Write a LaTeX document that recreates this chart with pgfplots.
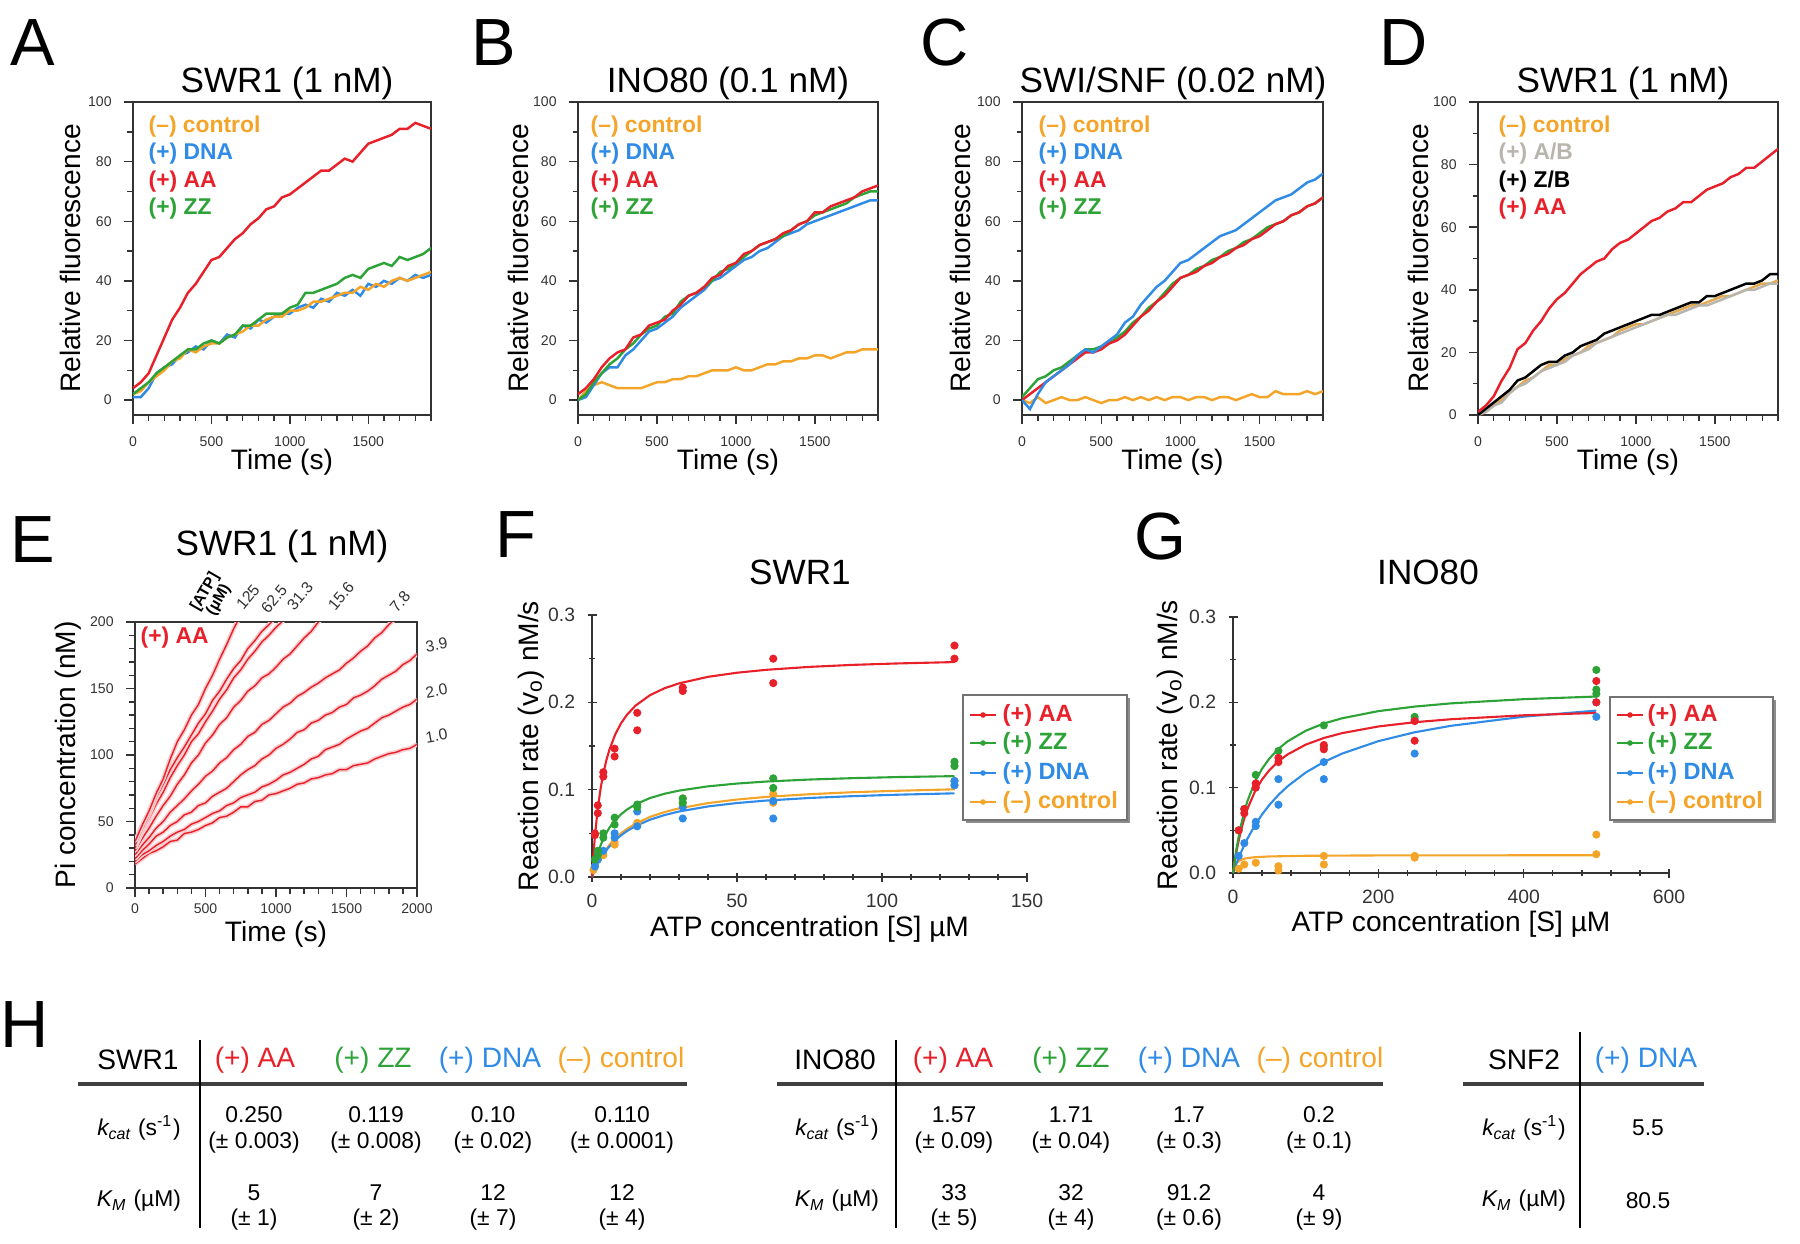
\documentclass[border=0pt]{standalone}
\usepackage{fontspec}
\setmainfont{Liberation Sans}
\usepackage{pgfplots}
\usepackage{pgfplotstable}
\pgfplotsset{compat=1.18}
\definecolor{cred}{HTML}{E8202A}
\definecolor{cblue}{HTML}{2F8BE6}
\definecolor{cgreen}{HTML}{2DA337}
\definecolor{corange}{HTML}{F4A428}
\definecolor{cgray}{HTML}{B8B4AE}
\definecolor{axgray}{HTML}{333333}
\newcommand{\fs}[1]{\fontsize{#1}{#1}\selectfont}

\pgfplotstableread{
t ctrl dna aa zz
0 2 1 4 2
50 3 1 6 4
100 6 4 9 6
150 8 9 15 9
200 10 11 21 11
250 13 12 27 13
300 14 15 31 15
350 17 16 36 17
400 16 18 39 17
450 18 17 43 19
500 19 20 47 20
550 19 19 48 19
600 21 22 51 21
650 22 21 54 22
700 23 25 56 25
750 25 24 59 25
800 25 27 61 27
850 27 26 64 29
900 28 28 65 29
950 28 29 68 29
1000 30 29 69 31
1050 30 31 71 32
1100 31 32 73 36
1150 33 31 75 36
1200 33 34 77 37
1250 34 33 77 38
1300 35 36 79 39
1350 36 35 81 41
1400 36 37 80 42
1450 38 35 83 41
1500 37 39 86 44
1550 39 38 87 45
1600 38 40 88 46
1650 40 39 89 45
1700 41 41 91 48
1750 40 40 91 47
1800 41 42 93 48
1850 42 41 92 49
1900 43 42 91 51
}\dataA

\pgfplotstableread{
t ctrl dna aa zz
0 0 0 2 0
50 3 1 4 2
100 5 5 7 6
150 6 9 11 9
200 5 11 14 12
250 4 11 16 14
300 4 15 17 17
350 4 17 21 19
400 4 20 22 22
450 5 23 25 24
500 6 24 26 25
550 6 26 27 28
600 7 28 30 29
650 7 31 32 33
700 8 33 35 35
750 8 35 36 36
800 9 37 38 38
850 10 40 41 40
900 10 41 42 43
950 10 43 45 44
1000 11 45 46 46
1050 10 47 49 48
1100 10 48 50 50
1150 11 50 52 52
1200 12 51 53 53
1250 12 53 54 54
1300 13 55 56 55
1350 13 56 57 57
1400 14 57 59 59
1450 14 59 60 60
1500 15 60 63 62
1550 15 61 63 63
1600 14 62 65 64
1650 15 63 66 65
1700 16 64 67 66
1750 16 65 68 68
1800 17 66 70 69
1850 17 67 71 70
1900 17 67 72 70
}\dataB

\pgfplotstableread{
t ctrl dna aa zz
0 0 0 0 1
50 -1 -3 2 4
100 1 2 4 7
150 -1 6 6 8
200 0 8 8 10
250 1 10 10 11
300 0 12 12 13
350 0 15 14 15
400 1 17 16 17
450 0 16 16 17
500 -1 18 17 18
550 0 20 19 19
600 0 22 20 21
650 1 26 22 23
700 0 28 25 26
750 1 32 28 28
800 0 35 30 31
850 1 38 33 33
900 0 40 35 36
950 1 43 38 39
1000 1 46 41 41
1050 0 47 42 42
1100 1 49 43 44
1150 1 51 45 45
1200 0 53 46 47
1250 1 55 48 48
1300 1 56 49 50
1350 0 57 51 51
1400 1 59 52 53
1450 2 61 54 54
1500 1 63 55 56
1550 1 65 57 58
1600 3 67 59 59
1650 2 68 60 60
1700 2 69 62 62
1750 2 71 63 63
1800 3 73 65 65
1850 2 74 66 66
1900 3 76 68 68
}\dataC

\pgfplotstableread{
t ctrl ab zb aa
0 0 0 0 1
50 1 1 2 3
100 3 3 4 6
150 5 4 6 11
200 7 7 8 15
250 9 9 11 21
300 11 10 12 23
350 12 12 14 27
400 14 14 16 30
450 16 15 17 34
500 16 16 17 37
550 18 17 19 39
600 19 19 20 42
650 20 20 22 45
700 22 21 23 47
750 23 23 24 49
800 24 24 26 50
850 25 25 27 53
900 27 26 28 55
950 28 27 29 56
1000 29 28 30 58
1050 29 29 31 60
1100 30 30 32 62
1150 31 31 32 63
1200 32 32 33 65
1250 33 32 34 66
1300 34 33 35 68
1350 35 34 36 68
1400 35 35 36 70
1450 36 35 38 72
1500 37 36 38 73
1550 38 37 39 74
1600 38 38 40 76
1650 39 39 41 77
1700 40 40 42 79
1750 41 40 42 79
1800 42 41 43 81
1850 42 42 45 83
1900 43 42 45 85
}\dataD

\pgfplotsset{
  base/.style={scale only axis, tick align=outside, tick pos=left,
    /pgf/number format/assume math mode=true,
    /pgf/number format/1000 sep={},
    axis line style={axgray, line width=0.45pt},
    every tick/.style={axgray, line width=0.4pt},
    major tick length=0.9mm, minor tick length=0.55mm,
    ticklabel style={font=\fs{4}, text=axgray},
  },
  ylab/.style={every axis y label/.style={at={(axis description cs:#1,0.5)}, rotate=90, anchor=center, font=\fs{8}}},
  xlab/.style={every axis x label/.style={at={(axis description cs:0.5,#1)}, anchor=center, font=\fs{8}}},
  kin/.style={base, width=#1, height=31.3mm, xmin=0, xmax=1900, ymin=-5, ymax=100,
    xtick={0,500,1000,1500}, ytick={0,20,40,60,80,100},
    minor xtick={100,200,...,1900}, minor ytick={10,30,50,70,90},
    xlabel={Time (s)}, ylabel={Relative fluorescence},
    ylab=-0.21, xlab=-0.15,
    every axis plot/.append style={line width=0.7pt},
  },
  mm/.style={base, axis lines=left, axis line style={-, axgray, line width=0.5pt},
    ymin=0, ymax=0.3, ytick={0,0.1,0.2,0.3}, minor ytick={0.05,0.15,0.25},
    ticklabel style={font=\fs{5.5}},
    yticklabel style={/pgf/number format/.cd, fixed, fixed zerofill, precision=1},
    xlabel={ATP concentration [S] µM}, ylabel={Reaction rate (v\textsubscript{o}) nM/s},
    ylab=-0.14, xlab=-0.2,
    clip=false,
  },
  pts/.style={only marks, mark=*, mark size=0.95pt, #1},
  fit/.style={no marks, line width=0.6pt, #1},
  ecurve/.style={no marks, line width=0.4pt, cred, preaction={draw=cred!22, line width=1.3pt}},
}

\begin{document}
\begin{tikzpicture}
\path[use as bounding box] (0,0) rectangle (180mm,124.3mm);

% ---------- A ----------
\begin{axis}[kin=29.8mm, at={(13.3mm,82.8mm)}]
\addplot[cblue] table[x=t,y=dna]{\dataA};
\addplot[corange] table[x=t,y=ctrl]{\dataA};
\addplot[cgreen] table[x=t,y=zz]{\dataA};
\addplot[cred] table[x=t,y=aa]{\dataA};
\end{axis}
% ---------- B ----------
\begin{axis}[kin=30.0mm, at={(57.8mm,82.8mm)}, ylab=-0.2]
\addplot[corange] table[x=t,y=ctrl]{\dataB};
\addplot[cblue] table[x=t,y=dna]{\dataB};
\addplot[cgreen] table[x=t,y=zz]{\dataB};
\addplot[cred] table[x=t,y=aa]{\dataB};
\end{axis}
% ---------- C ----------
\begin{axis}[kin=30.1mm, at={(102.2mm,82.8mm)}, ylab=-0.206]
\addplot[corange] table[x=t,y=ctrl]{\dataC};
\addplot[cgreen] table[x=t,y=zz]{\dataC};
\addplot[cred] table[x=t,y=aa]{\dataC};
\addplot[cblue] table[x=t,y=dna]{\dataC};
\end{axis}
% ---------- D ----------
\begin{axis}[kin=30.0mm, at={(147.8mm,82.8mm)}, ymin=0, ylab=-0.2, xlab=-0.15]
\addplot[corange!70!cgray] table[x=t,y=ctrl]{\dataD};
\addplot[cgray] table[x=t,y=ab]{\dataD};
\addplot[black] table[x=t,y=zb]{\dataD};
\addplot[cred] table[x=t,y=aa]{\dataD};
\end{axis}

% ---------- E ----------
\begin{axis}[base, width=28.2mm, height=26.6mm, at={(13.5mm,35.5mm)},
  xmin=0, xmax=2000, ymin=0, ymax=200,
  xtick={0,500,1000,1500,2000}, ytick={0,50,100,150,200},
  minor xtick={100,200,...,2000}, minor ytick={10,20,...,200},
  xticklabel style={yshift=0.6mm},
  xlabel={Time (s)}, ylabel={Pi concentration (nM)},
  ylab=-0.238, xlab=-0.175]
\addplot[ecurve] coordinates {(0,18)(50,22)(100,26)(150,28)(200,31)(250,35)(300,36)(350,41)(400,42)(450,44)(500,47)(550,49)(600,53)(650,54)(700,57)(750,61)(800,61)(850,65)(900,66)(950,70)(1000,71)(1050,73)(1100,75)(1150,78)(1200,79)(1250,82)(1300,83)(1350,85)(1400,86)(1450,89)(1500,89)(1550,92)(1600,93)(1650,94)(1700,97)(1750,99)(1800,101)(1850,102)(1900,104)(1950,105)(2000,108)};
\addplot[ecurve] coordinates {(0,20)(50,25)(100,28)(150,32)(200,35)(250,39)(300,42)(350,44)(400,48)(450,50)(500,53)(550,56)(600,58)(650,62)(700,64)(750,68)(800,70)(850,72)(900,76)(950,78)(1000,81)(1050,85)(1100,87)(1150,90)(1200,93)(1250,97)(1300,99)(1350,104)(1400,106)(1450,108)(1500,112)(1550,115)(1600,118)(1650,120)(1700,124)(1750,128)(1800,130)(1850,133)(1900,136)(1950,138)(2000,142)};
\addplot[ecurve] coordinates {(0,22)(50,28)(100,33)(150,39)(200,42)(250,47)(300,50)(350,55)(400,57)(450,62)(500,64)(550,69)(600,72)(650,75)(700,80)(750,85)(800,89)(850,92)(900,97)(950,100)(1000,105)(1050,108)(1100,112)(1150,117)(1200,119)(1250,124)(1300,126)(1350,130)(1400,132)(1450,136)(1500,138)(1550,143)(1600,145)(1650,148)(1700,152)(1750,157)(1800,160)(1850,163)(1900,168)(1950,171)(2000,176)};
\addplot[ecurve] coordinates {(0,25)(50,32)(100,38)(150,45)(200,50)(250,57)(300,62)(350,67)(400,73)(450,78)(500,84)(550,88)(600,94)(650,98)(700,104)(750,108)(800,114)(850,117)(900,123)(950,126)(1000,131)(1050,136)(1100,139)(1150,144)(1200,147)(1250,151)(1300,154)(1350,158)(1400,161)(1450,164)(1500,169)(1550,173)(1600,178)(1650,182)(1700,188)(1750,192)(1800,198)(1850,203)(1900,206)};
\addplot[ecurve] coordinates {(0,28)(50,37)(100,45)(150,54)(200,62)(250,69)(300,78)(350,85)(400,94)(450,100)(500,109)(550,115)(600,123)(650,128)(700,136)(750,141)(800,148)(850,152)(900,158)(950,161)(1000,166)(1050,172)(1100,176)(1150,182)(1200,188)(1250,193)(1300,200)(1350,205)};
\addplot[ecurve] coordinates {(0,30)(50,42)(100,52)(150,63)(200,72)(250,83)(300,92)(350,100)(400,110)(450,116)(500,125)(550,133)(600,142)(650,149)(700,158)(750,164)(800,172)(850,178)(900,185)(950,190)(1000,196)(1050,201)(1100,206)};
\addplot[ecurve] coordinates {(0,32)(50,44)(100,55)(150,68)(200,78)(250,89)(300,98)(350,106)(400,115)(450,124)(500,131)(550,141)(600,148)(650,157)(700,165)(750,171)(800,180)(850,186)(900,193)(950,198)(1000,204)};
\addplot[ecurve] coordinates {(0,35)(50,47)(100,58)(150,71)(200,82)(250,97)(300,110)(350,119)(400,130)(450,138)(500,150)(550,160)(600,172)(650,183)(700,195)(750,205)};
\end{axis}

% ---------- F ----------
\begin{axis}[mm, width=43.5mm, height=26.2mm, at={(59.2mm,36.6mm)},
  xmin=0, xmax=150, xtick={0,50,100,150}, minor xtick={10,20,...,140}]
\addplot[fit=corange] coordinates {(0,0)(0.5,0.0044)(1,0.0085)(2,0.0157)(3,0.022)(4,0.0275)(5,0.0324)(6,0.0367)(8,0.044)(10,0.05)(12,0.055)(15,0.0611)(20,0.0688)(25,0.0743)(30,0.0786)(40,0.0846)(50,0.0887)(60,0.0917)(75,0.0948)(90,0.0971)(105,0.0987)(125,0.1004)};
\addplot[fit=cblue] coordinates {(0,0)(0.5,0.0042)(1,0.0081)(2,0.015)(3,0.021)(4,0.0263)(5,0.0309)(6,0.035)(8,0.042)(10,0.0477)(12,0.0525)(15,0.0583)(20,0.0656)(25,0.0709)(30,0.075)(40,0.0808)(50,0.0847)(60,0.0875)(75,0.0905)(90,0.0926)(105,0.0942)(125,0.0958)};
\addplot[fit=cgreen] coordinates {(0,0)(0.5,0.0081)(1,0.0153)(2,0.0271)(3,0.0366)(4,0.0444)(5,0.0508)(6,0.0563)(8,0.0651)(10,0.0718)(12,0.0771)(15,0.0832)(20,0.0904)(25,0.0953)(30,0.0989)(40,0.1038)(50,0.107)(60,0.1093)(75,0.1116)(90,0.1132)(105,0.1144)(125,0.1155)};
\addplot[fit=cred] coordinates {(0,0)(0.5,0.0255)(1,0.0464)(2,0.0785)(3,0.102)(4,0.12)(5,0.1342)(6,0.1457)(8,0.1632)(10,0.1759)(12,0.1855)(15,0.1962)(20,0.2082)(25,0.2161)(30,0.2217)(40,0.2292)(50,0.2339)(60,0.2372)(75,0.2406)(90,0.2429)(105,0.2445)(125,0.2461)};
\addplot[pts=corange] coordinates {(125,0.11)(125,0.105)(62.5,0.095)(62.5,0.085)(31.3,0.09)(31.3,0.085)(15.6,0.062)(15.6,0.06)(7.8,0.04)(7.8,0.037)(3.9,0.025)(2,0.02)(1,0.012)(0.5,0.008)};
\addplot[pts=cblue] coordinates {(125,0.105)(125,0.11)(62.5,0.087)(62.5,0.067)(31.3,0.08)(31.3,0.067)(15.6,0.075)(15.6,0.058)(7.8,0.045)(7.8,0.05)(3.9,0.03)(2,0.02)(1,0.012)};
\addplot[pts=cgreen] coordinates {(125,0.132)(125,0.127)(62.5,0.113)(62.5,0.102)(31.3,0.09)(31.3,0.085)(15.6,0.083)(15.6,0.08)(7.8,0.068)(7.8,0.06)(3.9,0.05)(3.9,0.045)(2,0.03)(2,0.025)(1,0.02)};
\addplot[pts=cred] coordinates {(125,0.265)(125,0.25)(62.5,0.25)(62.5,0.222)(31.3,0.217)(31.3,0.213)(15.6,0.188)(15.6,0.168)(7.8,0.147)(7.8,0.138)(3.9,0.12)(3.9,0.115)(2,0.082)(2,0.073)(1,0.048)(1,0.05)};
\end{axis}

% ---------- G ----------
\begin{axis}[mm, width=43.6mm, height=25.6mm, at={(123.3mm,37.0mm)},
  xmin=0, xmax=600, xtick={0,200,400,600}, minor xtick={40,80,...,560}, ylab=-0.143]
\addplot[fit=corange] coordinates {(0,0)(2,0.007)(5,0.0117)(10,0.015)(15,0.0166)(20,0.0175)(30,0.0185)(50,0.0194)(100,0.0202)(200,0.0206)(300,0.0207)(500,0.0208)};
\addplot[fit=cblue] coordinates {(0,0)(2,0.0048)(5,0.0117)(10,0.0222)(15,0.0318)(20,0.0405)(30,0.0557)(40,0.0686)(50,0.0797)(62.5,0.0915)(75,0.1015)(100,0.1177)(125,0.1301)(150,0.1399)(200,0.1545)(250,0.1649)(300,0.1725)(400,0.1832)(500,0.1903)};
\addplot[fit=cred] coordinates {(0,0)(2,0.0114)(5,0.0263)(10,0.0465)(15,0.0625)(20,0.0755)(30,0.0952)(40,0.1096)(50,0.1205)(62.5,0.1309)(75,0.1389)(100,0.1504)(125,0.1582)(150,0.1639)(200,0.1717)(250,0.1767)(300,0.1802)(400,0.1848)(500,0.1876)};
\addplot[fit=cgreen] coordinates {(0,0)(2,0.0129)(5,0.0297)(10,0.0524)(15,0.0702)(20,0.0846)(30,0.1065)(40,0.1222)(50,0.1341)(62.5,0.1455)(75,0.1542)(100,0.1667)(125,0.1752)(150,0.1813)(200,0.1897)(250,0.195)(300,0.1988)(400,0.2037)(500,0.2068)};
\addplot[pts=corange] coordinates {(500,0.045)(500,0.022)(250,0.02)(250,0.018)(125,0.02)(125,0.01)(62.5,0.008)(62.5,0.003)(31.3,0.012)(15.6,0.01)(7.8,0.005)};
\addplot[pts=cblue] coordinates {(500,0.183)(500,0.2)(250,0.14)(250,0.18)(125,0.11)(125,0.13)(62.5,0.11)(62.5,0.08)(31.3,0.055)(31.3,0.06)(15.6,0.035)(7.8,0.02)};
\addplot[pts=cgreen] coordinates {(500,0.238)(500,0.215)(500,0.21)(250,0.183)(125,0.173)(125,0.148)(62.5,0.143)(31.3,0.115)(15.6,0.075)(7.8,0.05)};
\addplot[pts=cred] coordinates {(500,0.225)(500,0.2)(250,0.178)(250,0.155)(125,0.15)(125,0.145)(62.5,0.135)(62.5,0.13)(31.3,0.1)(31.3,0.105)(15.6,0.075)(15.6,0.07)(7.8,0.05)};
\end{axis}

% ---------- annotations in pixel coordinates ----------
\begin{scope}[x=0.1mm, y=-0.1mm, yshift=124.3mm]
% panel letters
\foreach \l/\px/\py in {A/33/43, B/494/43, C/945/43, D/1404/43, E/33/540, F/516/535, G/1160/537, H/25/1025}
  \node[font=\fs{19}, anchor=center] at (\px,\py) {\l};
% titles
\node[font=\fs{10}] at (287,83) {SWR1 (1 nM)};
\node[font=\fs{10}] at (728,83) {INO80 (0.1 nM)};
\node[font=\fs{10}] at (1173,83) {SWI/SNF (0.02 nM)};
\node[font=\fs{10}] at (1623,83) {SWR1 (1 nM)};
\node[font=\fs{10}] at (282,546) {SWR1 (1 nM)};
\node[font=\fs{10}] at (800,572) {SWR1};
\node[font=\fs{10}] at (1428,572) {INO80};
% legends A-C
\foreach \px in {148,590,1038} {
  \node[font=\fs{6.5}\bfseries, text=corange, anchor=west, inner sep=0] at (\px,127) {(–) control};
  \node[font=\fs{6.5}\bfseries, text=cblue, anchor=west, inner sep=0] at (\px,154) {(+) DNA};
  \node[font=\fs{6.5}\bfseries, text=cred, anchor=west, inner sep=0] at (\px,182) {(+) AA};
  \node[font=\fs{6.5}\bfseries, text=cgreen, anchor=west, inner sep=0] at (\px,209) {(+) ZZ};
}
% legend D
\node[font=\fs{6.5}\bfseries, text=corange, anchor=west, inner sep=0] at (1498,127) {(–) control};
\node[font=\fs{6.5}\bfseries, text=cgray, anchor=west, inner sep=0] at (1498,154) {(+) A/B};
\node[font=\fs{6.5}\bfseries, text=black, anchor=west, inner sep=0] at (1498,182) {(+) Z/B};
\node[font=\fs{6.5}\bfseries, text=cred, anchor=west, inner sep=0] at (1498,209) {(+) AA};
% E labels
\node[font=\fs{6.5}\bfseries, text=cred, anchor=west, inner sep=0] at (140,638) {(+) AA};
\node[font=\fs{4.5}\bfseries, rotate=60, align=center, inner sep=0] at (212,596) {[ATP]\\(µM)};
\foreach \lab/\px/\py in {125/248/597, 62.5/274/599, 31.3/300/596, 15.6/341/596, 7.8/400/602}
  \node[font=\fs{4.5}, rotate=50, inner sep=0, text=axgray] at (\px,\py) {\lab};
\foreach \lab/\py in {3.9/647, 2.0/693, 1.0/738}
  \node[font=\fs{4.5}, rotate=10, inner sep=0, anchor=west, text=axgray] at (425,\py) {\lab};
% F/G legends
\foreach \bx/\by/\ex/\ey/\lx/\tx in {963/695/1127/820/970/1002, 1610/697/1773/820/1617/1647} {
  \fill[black!45] (\bx+3,\by+3) rectangle (\ex+3,\ey+3);
  \filldraw[fill=white, draw=black!55, line width=0.5pt] (\bx,\by) rectangle (\ex,\ey);
  \foreach \c/\t/\ry in {cred/(+) AA/715, cgreen/(+) ZZ/743, cblue/(+) DNA/773, corange/(–) control/802} {
    \draw[\c, line width=0.6pt] (\lx,\ry) -- (\lx+26,\ry);
    \fill[\c] (\lx+13,\ry) circle (0.28mm);
    \node[font=\fs{6.7}\bfseries, text=\c, anchor=west, inner sep=0] at (\tx,\ry) {\t};
  }
}
% ---------- H tables ----------
\def\kcat{{\itshape k}\textsubscript{\itshape cat} (s\textsuperscript{-1})}
\def\KM{{\itshape K}\textsubscript{\itshape M} (µM)}
% SWR1
\draw[black!75, line width=1.3pt] (78,1084) -- (687,1084);
\draw[black, line width=0.5pt] (200,1040) -- (200,1228);
\node[font=\fs{8}] at (138,1060) {SWR1};
\node[font=\fs{8}, text=cred] at (255,1060) {(+) AA};
\node[font=\fs{8}, text=cgreen] at (373,1060) {(+) ZZ};
\node[font=\fs{8}, text=cblue] at (490,1060) {(+) DNA};
\node[font=\fs{8}, text=corange] at (621,1060) {(–) control};
\node[font=\fs{6.5}] at (139,1128) {\kcat};
\node[font=\fs{6.5}] at (139,1201) {\KM};
\foreach \v/\e/\px in {0.250/0.003/254, 0.119/0.008/376, 0.10/0.02/493, 0.110/0.0001/622} {
  \node[font=\fs{6.5}] at (\px,1115) {\v};
  \node[font=\fs{6.5}] at (\px,1143) {(± \e)};
}
\foreach \v/\e/\px in {5/1/254, 7/2/376, 12/7/493, 12/4/622} {
  \node[font=\fs{6.5}] at (\px,1193) {\v};
  \node[font=\fs{6.5}] at (\px,1220) {(± \e)};
}
% INO80
\draw[black!75, line width=1.3pt] (777,1084) -- (1383,1084);
\draw[black, line width=0.5pt] (896,1040) -- (896,1228);
\node[font=\fs{8}] at (835,1060) {INO80};
\node[font=\fs{8}, text=cred] at (953,1060) {(+) AA};
\node[font=\fs{8}, text=cgreen] at (1071,1060) {(+) ZZ};
\node[font=\fs{8}, text=cblue] at (1189,1060) {(+) DNA};
\node[font=\fs{8}, text=corange] at (1320,1060) {(–) control};
\node[font=\fs{6.5}] at (837,1128) {\kcat};
\node[font=\fs{6.5}] at (837,1201) {\KM};
\foreach \v/\e/\px in {1.57/0.09/954, 1.71/0.04/1071, 1.7/0.3/1189, 0.2/0.1/1319} {
  \node[font=\fs{6.5}] at (\px,1115) {\v};
  \node[font=\fs{6.5}] at (\px,1143) {(± \e)};
}
\foreach \v/\e/\px in {33/5/954, 32/4/1071, 91.2/0.6/1189, 4/9/1319} {
  \node[font=\fs{6.5}] at (\px,1193) {\v};
  \node[font=\fs{6.5}] at (\px,1220) {(± \e)};
}
% SNF2
\draw[black!75, line width=1.3pt] (1463,1084) -- (1704,1084);
\draw[black, line width=0.5pt] (1580,1032) -- (1580,1228);
\node[font=\fs{8}] at (1524,1060) {SNF2};
\node[font=\fs{8}, text=cblue] at (1646,1060) {(+) DNA};
\node[font=\fs{6.5}] at (1524,1128) {\kcat};
\node[font=\fs{6.5}] at (1524,1201) {\KM};
\node[font=\fs{6.5}] at (1648,1128) {5.5};
\node[font=\fs{6.5}] at (1648,1201) {80.5};
\end{scope}
\end{tikzpicture}
\end{document}
